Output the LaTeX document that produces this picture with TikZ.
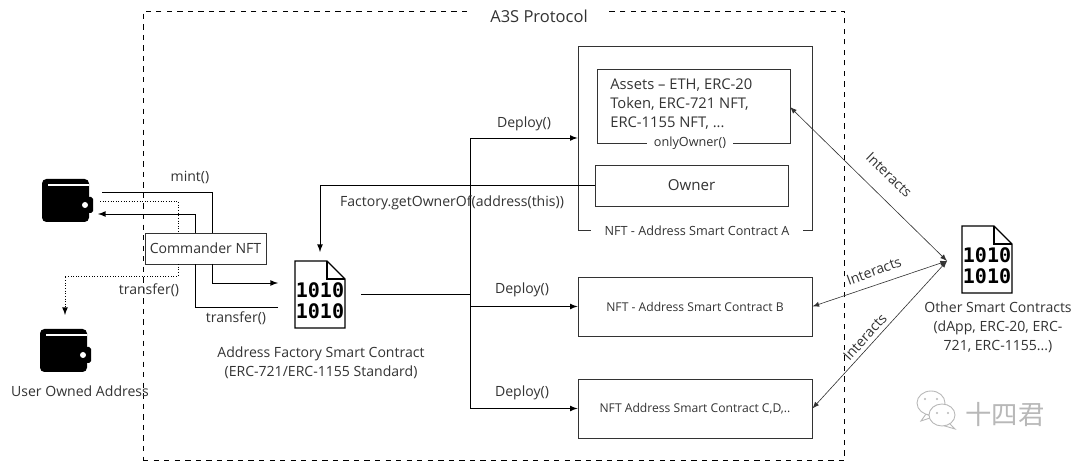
\documentclass[tikz,border=0pt]{standalone}
\usepackage{fontspec}
\usepackage{xcolor}
\setmainfont{Open Sans}
\newfontfamily\bitfont{DejaVu Sans Mono}[BoldFont=DejaVu Sans Mono Bold]
\newfontfamily\cjkfont{Noto Sans CJK SC}
\definecolor{inkcol}{HTML}{333333}
\definecolor{wmcol}{HTML}{B8B8B8}
\tikzset{
    txt/.style={text=inkcol, font=\fontsize{8}{10.8}\selectfont, inner sep=0pt},
    smalltxt/.style={text=inkcol, font=\fontsize{6.9}{9}\selectfont, inner sep=0pt},
    box/.style={shape=rectangle, draw=inkcol, line width=0.5pt, fill=white},
    conn/.style={draw=black, line width=0.5pt},
    thinconn/.style={draw=inkcol, line width=0.35pt},
    tip/.style={-latex},
}
% wallet icon, x y = top left
\newcommand{\walleticon}[3]{
    \begin{scope}[shift={(#2,#3)}]
        \node[shape=rectangle, minimum width=1.02cm, minimum height=0.86cm, inner sep=0pt] (#1) at (25.5,21.5) {};
        \fill[black, rounded corners=2.5pt] (0,0) rectangle (47,43);
        \fill[black, rounded corners=1pt] (42,18) rectangle (51,34);
        \draw[white, line width=1.1pt] (6,6) -- (47,6);
        \fill[white] (43,26) circle (3);
    \end{scope}
}
% file icon with binary digits
\newcommand{\docicon}[3]{
    \begin{scope}[shift={(#2,#3)}]
        \node[shape=rectangle, minimum width=1cm, minimum height=1.34cm, inner sep=0pt, text=black, align=center, font=\bitfont\bfseries\fontsize{11.4}{12}\selectfont] (#1) at (25,40) {1010\\1010};
        \draw[black, line width=0.7pt] (0,0) -- (32,0) -- (50,18) -- (50,67) -- (0,67) -- cycle;
        \draw[black, line width=0.7pt] (32,0) -- (32,18) -- (50,18);
    \end{scope}
}
\begin{document}
\begin{tikzpicture}[x=0.02cm, y=-0.02cm]
            \useasboundingbox (0,0) rectangle (1080,462);

            % protocol frame
            \node[shape=rectangle, draw=black, dashed, line width=0.5pt, minimum width=14.04cm, minimum height=8.98cm] (protocol) at (494,235.5) {};
            \node[txt, fill=white, minimum width=2.8cm, minimum height=0.4cm, font=\fontsize{9.4}{10}\selectfont] (title) at (539,16) {A3S Protocol};

            % contracts
            \node[box, minimum width=4.68cm, minimum height=3.68cm] (nfta) at (695,138) {};
            \node[txt, fill=white, minimum width=4.26cm, font=\fontsize{7.2}{9}\selectfont] (nftalabel) at (697,231) {NFT - Address Smart Contract A};
            \node[box, minimum width=3.86cm, minimum height=1.48cm] (assets) at (693.5,106) {};
            \node[txt, anchor=west, align=left, font=\fontsize{8.4}{10.8}\selectfont] (assetstxt) at (610,104) {Assets -- ETH, ERC-20\\Token, ERC-721 NFT,\\ERC-1155 NFT, ...};
            \node[txt, fill=white, minimum width=1.74cm, font=\fontsize{7.2}{9}\selectfont] (onlyowner) at (690,143) {onlyOwner()};
            \node[box, txt, font=\fontsize{8.6}{10}\selectfont, minimum width=3.86cm, minimum height=0.82cm] (owner) at (691.5,185.5) {Owner};
            \node[box, smalltxt, minimum width=4.68cm, minimum height=1.18cm] (nftb) at (695,306.5) {NFT - Address Smart Contract B};
            \node[box, smalltxt, minimum width=4.68cm, minimum height=1.18cm] (nftc) at (695,408.5) {NFT Address Smart Contract C,D,..};

            % icons
            \walleticon{walleta}{42}{179}
            \walleticon{walletb}{40}{329}
            \docicon{factory}{295}{261}
            \docicon{others}{962}{226}
            \node[box, txt, inner sep=0pt, draw=inkcol, minimum width=2.42cm, minimum height=0.62cm] (commander) at (205.5,248.5) {Commander NFT};

            % free ends
            \coordinate (mintout) at (102,192);
            \coordinate (mintin) at (212,233);
            \coordinate (mintback) at (212,264);
            \coordinate (factoryin) at (278,283);
            \coordinate (factoryleft) at (278,307);
            \coordinate (transfertop) at (195,264);
            \coordinate (transferup) at (195,233);
            \coordinate (walletin) at (98,214);
            \coordinate (dotout) at (100,201);
            \coordinate (dotin) at (178,233);
            \coordinate (dotback) at (178,264);
            \coordinate (dotturn) at (178,276);
            \coordinate (dotend) at (65,315);
            \coordinate (factoryout) at (361,294);
            \coordinate (trunktop) at (470,138);
            \coordinate (trunkmid) at (470,294);
            \coordinate (trunkb) at (470,306.5);
            \coordinate (trunkc) at (470,408.5);
            \coordinate (ownerdrop) at (320,252);
            \coordinate (hub) at (947,261);
            \coordinate (assetsend) at (790,107);

            % wallet side
            \path [conn] (mintout) -| (mintin);
            \path [conn, tip] (mintback) |- (factoryin);
            \path [conn] (factoryleft) -| (transfertop);
            \path [conn, tip] (transferup) |- (walletin);
            \path [conn, densely dotted] (dotout) -| (dotin);
            \path [conn, densely dotted, tip] (dotback) -- (dotturn) -| (dotend);

            % deploy lines
            \path [conn] (factoryout) -- (trunkmid);
            \path [conn] (trunkc) -- (trunktop);
            \path [conn, tip] (trunktop) -- (trunktop -| nfta.west);
            \path [conn, tip] (trunkb) -- (nftb.west);
            \path [conn, tip] (trunkc) -- (nftc.west);
            \path [conn, tip] (owner.west) -| (ownerdrop);

            % interacts
            \path [thinconn, latex-latex] (assetsend) -- (hub);
            \path [thinconn, latex-latex] (nftb.east) -- (hub);
            \path [thinconn, latex-latex] (nftc.east) -- (hub);

            % labels
            \node[txt] (mint) at (190,177) {mint()};
            \node[txt] (transfera) at (149,290) {transfer()};
            \node[txt] (transferb) at (236,318) {transfer()};
            \node[txt] (deploya) at (524,124) {Deploy()};
            \node[txt] (deployb) at (522,290) {Deploy()};
            \node[txt] (deployc) at (522,393) {Deploy()};
            \node[txt] (getowner) at (452,203) {Factory.getOwnerOf(address(this))};
            \node[txt, align=center] (factorytxt) at (321,363) {Address Factory Smart Contract\\(ERC-721/ERC-1155 Standard)};
            \node[txt] (usertxt) at (80,391) {User Owned Address};
            \node[txt, align=center] (otherstxt) at (998,327) {Other Smart Contracts\\(dApp, ERC-20, ERC-\\721, ERC-1155...)};
            \node[txt, rotate=-44] (interacta) at (889,175) {Interacts};
            \node[txt, rotate=20] (interactb) at (874,271) {Interacts};
            \node[txt, rotate=48] (interactc) at (865,337) {Interacts};

            % watermark
            \draw[wmcol, line width=0.5pt, fill=white] (926,414) -- (921,421) -- (933,417) -- cycle;
            \draw[wmcol, line width=0.5pt, fill=white] (931,403) ellipse (14 and 12);
            \fill[wmcol] (925,399) circle (1.2) (937,399) circle (1.2);
            \draw[wmcol, line width=0.5pt, fill=white] (948,422) -- (955,429) -- (938,424) -- cycle;
            \draw[wmcol, line width=0.5pt, fill=white] (942,415) ellipse (13 and 11);
            \fill[wmcol] (937,413) circle (1.2) (948,413) circle (1.2);
            \node[text=wmcol, font=\cjkfont\fontsize{15}{15}\selectfont, inner sep=0pt] (wmtxt) at (1005,415) {十四君};
        \end{tikzpicture}
\end{document}
